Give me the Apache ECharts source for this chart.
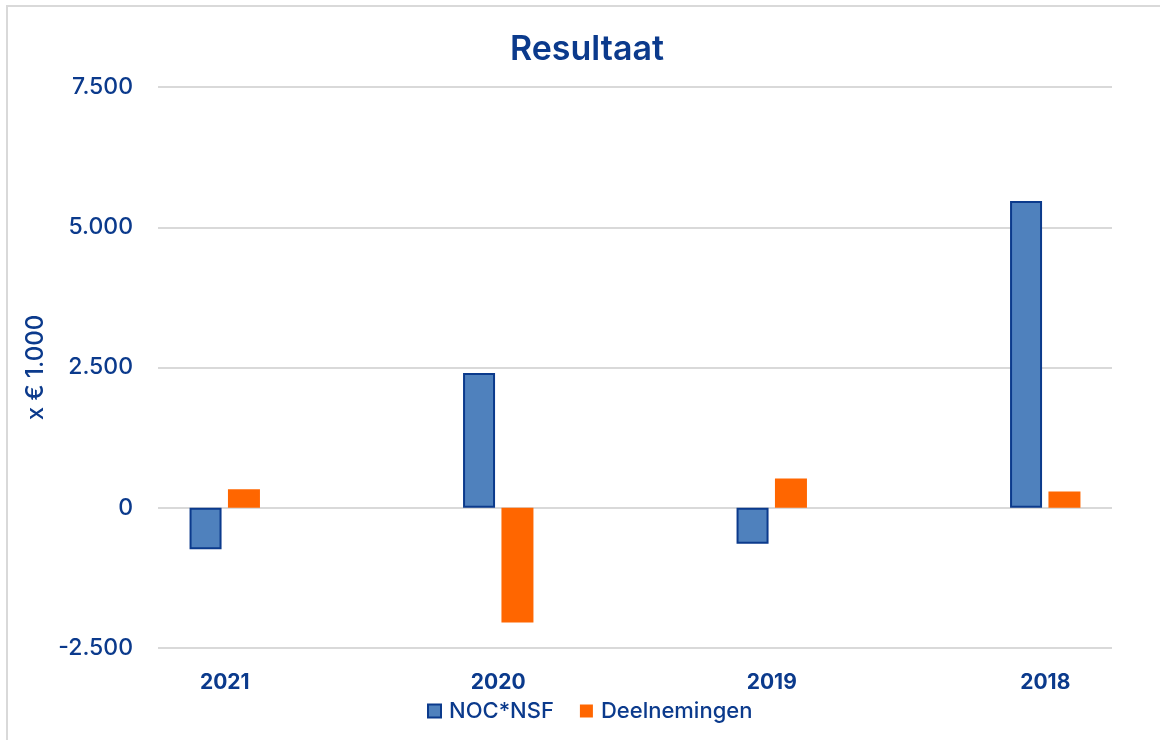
<!DOCTYPE html>
<html>
<head>
<meta charset="utf-8">
<script src="https://cdn.jsdelivr.net/npm/echarts@6/dist/echarts.min.js"></script>
<style>
  html, body { margin: 0; padding: 0; background: #ffffff; overflow: hidden; }
  #frame { position: absolute; left: 6px; top: 5px; width: 1170px; height: 760px; border-left: 2px solid #d9d9d9; border-top: 2px solid #d9d9d9; }
  #chart { position: absolute; left: 0; top: 0; width: 1160px; height: 740px; }
</style>
</head>
<body>
<div id="frame"></div>
<div id="chart"></div>
<script>
const title = 'Resultaat';
const yAxisName = 'x € 1.000';
const categories = ['2021', '2020', '2019', '2018'];
const seriesNames = ['NOC*NSF', 'Deelnemingen'];
const nocValues = [-740, 2400, -640, 5470];
const deelValues = [330, -2045, 520, 290];
const yMin = -2500, yMax = 7500, yStep = 2500;

const textColor = '#0b3a8c';
const fontFamily = 'Inter, "Noto Sans", sans-serif';

function fmt(v) {
  const s = Math.abs(v).toString().replace(/\B(?=(\d{3})+(?!\d))/g, '.');
  return (v < 0 ? '-' : '') + s;
}

const chart = echarts.init(document.getElementById('chart'), null, { renderer: 'canvas' });
chart.setOption({
  backgroundColor: 'transparent',
  animation: false,
  title: {
    text: title,
    left: 505,
    top: 28,
    textStyle: { color: textColor, fontFamily, fontSize: 34, fontWeight: 600 }
  },
  legend: {
    data: seriesNames,
    left: 422,
    top: 695,
    itemWidth: 13,
    itemHeight: 13,
    itemGap: 26,
    icon: 'rect',
    textStyle: { color: textColor, fontFamily, fontSize: 22, fontWeight: 500, padding: [0, 0, 0, 3] }
  },
  grid: [
    { left: 158, right: 48, top: 87, bottom: 92, outerBoundsMode: 'none' },
    { left: 88, width: 1094, top: 87, bottom: 92, outerBoundsMode: 'none' }
  ],
  xAxis: [
    { gridIndex: 0, type: 'category', data: categories, show: false },
    {
      gridIndex: 1, type: 'category', data: categories,
      axisLine: { show: false }, axisTick: { show: false },
      axisLabel: { color: textColor, fontFamily, fontSize: 21, fontWeight: 700, margin: 24 }
    }
  ],
  yAxis: [
    {
      gridIndex: 0, type: 'value', min: yMin, max: yMax, interval: yStep,
      name: yAxisName, nameLocation: 'middle', nameGap: 110,
      nameTextStyle: { color: textColor, fontFamily, fontSize: 24, fontWeight: 500 },
      axisLine: { show: false }, axisTick: { show: false },
      axisLabel: { color: textColor, fontFamily, fontSize: 23, fontWeight: 500, margin: 25, formatter: fmt },
      splitLine: { lineStyle: { color: '#d9d9d9', width: 2 } }
    },
    { gridIndex: 1, type: 'value', min: yMin, max: yMax, interval: yStep, show: false, splitLine: { show: false } }
  ],
  series: [
    {
      name: seriesNames[0], type: 'bar', xAxisIndex: 1, yAxisIndex: 1,
      data: nocValues, barWidth: 32, barGap: '20%',
      itemStyle: { color: '#4f81bd', borderColor: '#0b3a8c', borderWidth: 2 }
    },
    {
      name: seriesNames[1], type: 'bar', xAxisIndex: 1, yAxisIndex: 1,
      data: deelValues, barWidth: 32, barGap: '20%',
      itemStyle: { color: '#ff6600' }
    }
  ]
});
</script>
</body>
</html>
